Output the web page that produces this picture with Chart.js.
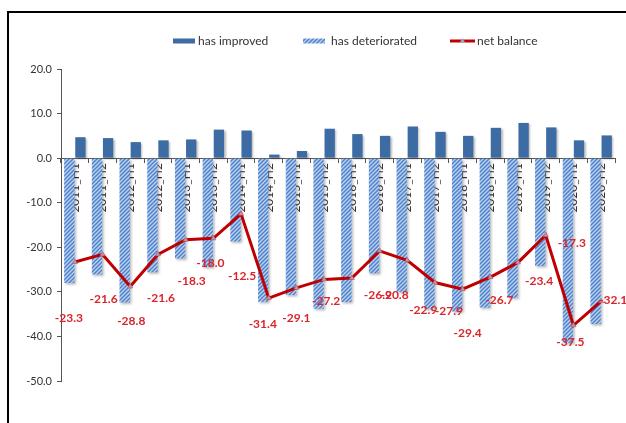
<!DOCTYPE html>
<html>
<head>
<meta charset="utf-8">
<script src="https://cdn.jsdelivr.net/npm/chart.js@4.4.1/dist/chart.umd.min.js"></script>
<style>
    html, body { margin: 0; padding: 0; background: #ffffff; }
    #wrap { width: 626px; height: 423px; position: relative; }
</style>
</head>
<body>
<div id="wrap"><canvas id="balanceChart"></canvas></div>
<script>
const periods = ['2011_H1', '2011_H2', '2012_H1', '2012_H2', '2013_H1', '2013_H2', '2014_H1', '2014_H2',
    '2015_H1', '2015_H2', '2016_H1', '2016_H2', '2017_H1', '2017_H2', '2018_H1', '2018_H2',
    '2019_H1', '2019_H2', '2020_H1', '2020_H2'];
const improved = [4.7, 4.5, 3.6, 4.0, 4.2, 6.4, 6.2, 0.8, 1.6, 6.6, 5.4, 5.0, 7.1, 5.9, 5.0, 6.8, 7.9, 6.9, 4.0, 5.1];
const deteriorated = [-28.0, -26.1, -32.4, -25.6, -22.5, -24.4, -18.7, -32.2, -30.7, -33.8, -32.3, -25.8,
    -30.0, -33.8, -34.4, -33.5, -31.3, -24.2, -41.5, -37.2];
const netBalance = [-23.3, -21.6, -28.8, -21.6, -18.3, -18.0, -12.5, -31.4, -29.1, -27.2, -26.9, -20.8,
    -22.9, -27.9, -29.4, -26.7, -23.4, -17.3, -37.5, -32.1];
const yTicks = [20, 10, 0, -10, -20, -30, -40, -50];
const seriesNames = ['has improved', 'has deteriorated', 'net balance'];

// where each net balance label sits relative to its point (px)
const labelOffsets = [[-6, 56], [1, 45], [1, 35], [3, 44], [6, 41], [-3, 25], [1, 62], [-6, 26], [0, 30], [2, 22],
    [26, 17], [15, 44], [16, 50], [14, 29], [5, 44], [9, 23], [21, 19], [26, 8], [-3, 17], [12, -1]];

const BLUE = '#3d6ba3';
const RED = '#c00000';
const LABEL_RED = '#d8262c';
const TEXT = '#333333';
const FONT = 'Lato, "Open Sans", sans-serif';

function hatchPattern() {
    const c = document.createElement('canvas');
    c.width = 4; c.height = 4;
    const g = c.getContext('2d');
    g.fillStyle = '#bcd3f0';
    g.fillRect(0, 0, 4, 4);
    g.strokeStyle = '#4f82cc';
    g.lineWidth = 1.5;
    g.beginPath();
    g.moveTo(-1, 5); g.lineTo(5, -1);
    g.moveTo(-1, 1); g.lineTo(1, -1);
    g.moveTo(3, 5); g.lineTo(5, 3);
    g.stroke();
    return g.createPattern(c, 'repeat');
}

const hatch = hatchPattern();

const barShadow = {
    id: 'barShadow',
    beforeDatasetDraw(chart, args) {
        if (args.meta.type !== 'bar') return;
        const ctx = chart.ctx;
        ctx.save();
        ctx.shadowColor = 'rgba(0,0,0,0.28)';
        ctx.shadowOffsetX = 1.5;
        ctx.shadowOffsetY = 1.5;
        ctx.shadowBlur = 2;
    },
    afterDatasetDraw(chart, args) {
        if (args.meta.type === 'bar') chart.ctx.restore();
    }
};

const netLabels = {
    id: 'netLabels',
    afterDatasetsDraw(chart) {
        const meta = chart.getDatasetMeta(2);
        const ctx = chart.ctx;
        ctx.save();
        ctx.font = 'bold 12px ' + FONT;
        ctx.fillStyle = LABEL_RED;
        ctx.textAlign = 'center';
        ctx.textBaseline = 'middle';
        meta.data.forEach((pt, i) => {
            const [dx, dy] = labelOffsets[i];
            ctx.fillText(netBalance[i].toFixed(1), pt.x + dx, pt.y + dy);
        });
        ctx.restore();
    }
};

const frameAndLegend = {
    id: 'frameAndLegend',
    afterDraw(chart) {
        const ctx = chart.ctx;
        ctx.save();
        // outer frame: top and left edge only
        ctx.strokeStyle = '#000000';
        ctx.lineWidth = 2;
        ctx.beginPath();
        ctx.moveTo(8, 423);
        ctx.lineTo(8, 12);
        ctx.lineTo(626, 12);
        ctx.stroke();

        // legend row
        const y = 41;
        ctx.font = '12px ' + FONT;
        ctx.textBaseline = 'middle';
        ctx.textAlign = 'left';

        ctx.fillStyle = BLUE;
        ctx.fillRect(173, y - 2.5, 22, 5);
        ctx.fillStyle = TEXT;
        ctx.fillText(seriesNames[0], 198, y);

        ctx.fillStyle = hatch;
        ctx.fillRect(303, y - 2.5, 22, 5);
        ctx.fillStyle = TEXT;
        ctx.fillText(seriesNames[1], 331, y);

        ctx.strokeStyle = RED;
        ctx.lineWidth = 3;
        ctx.beginPath();
        ctx.moveTo(450, y);
        ctx.lineTo(475, y);
        ctx.stroke();
        ctx.fillStyle = '#b49ab4';
        ctx.beginPath();
        ctx.moveTo(462.5, y - 3);
        ctx.lineTo(465.5, y + 2);
        ctx.lineTo(459.5, y + 2);
        ctx.closePath();
        ctx.fill();
        ctx.fillStyle = TEXT;
        ctx.fillText(seriesNames[2], 477, y);
        ctx.restore();
    }
};

const ctx = document.getElementById('balanceChart').getContext('2d');
new Chart(ctx, {
    type: 'bar',
    data: {
        labels: periods,
        datasets: [
            {
                label: seriesNames[0],
                data: improved,
                backgroundColor: BLUE,
                order: 2,
                categoryPercentage: 0.8,
                barPercentage: 0.93
            },
            {
                label: seriesNames[1],
                data: deteriorated,
                backgroundColor: hatch,
                order: 1,
                categoryPercentage: 0.8,
                barPercentage: 0.93
            },
            {
                type: 'line',
                label: seriesNames[2],
                data: netBalance,
                borderColor: RED,
                borderWidth: 3,
                backgroundColor: '#b49ab4',
                pointStyle: 'triangle',
                pointRadius: 3,
                pointBorderColor: '#b84a5a',
                pointBorderWidth: 0.5,
                tension: 0,
                order: 0
            }
        ]
    },
    options: {
        responsive: true,
        maintainAspectRatio: false,
        animation: false,
        layout: { padding: { top: 69, right: 11, bottom: 42, left: 0 } },
        plugins: {
            legend: { display: false },
            tooltip: { enabled: false }
        },
        scales: {
            x: {
                position: { y: 0 },
                z: 1,
                offset: true,
                grid: {
                    offset: true,
                    drawOnChartArea: false,
                    tickLength: 4,
                    color: '#555555'
                },
                border: { color: '#555555', width: 1 },
                ticks: {
                    autoSkip: false,
                    minRotation: 90,
                    maxRotation: 90,
                    padding: 1,
                    color: TEXT,
                    font: { family: FONT, size: 12 }
                }
            },
            y: {
                min: -50,
                max: 20,
                afterFit(scale) { scale.width = 61; },
                afterBuildTicks(scale) { scale.ticks = yTicks.map(v => ({ value: v })); },
                grid: {
                    drawOnChartArea: false,
                    tickLength: 4,
                    color: '#555555'
                },
                border: { color: '#555555', width: 1 },
                ticks: {
                    padding: 5,
                    color: TEXT,
                    font: { family: FONT, size: 11 },
                    callback: v => v.toFixed(1)
                }
            }
        }
    },
    plugins: [barShadow, netLabels, frameAndLegend]
});
</script>
</body>
</html>
